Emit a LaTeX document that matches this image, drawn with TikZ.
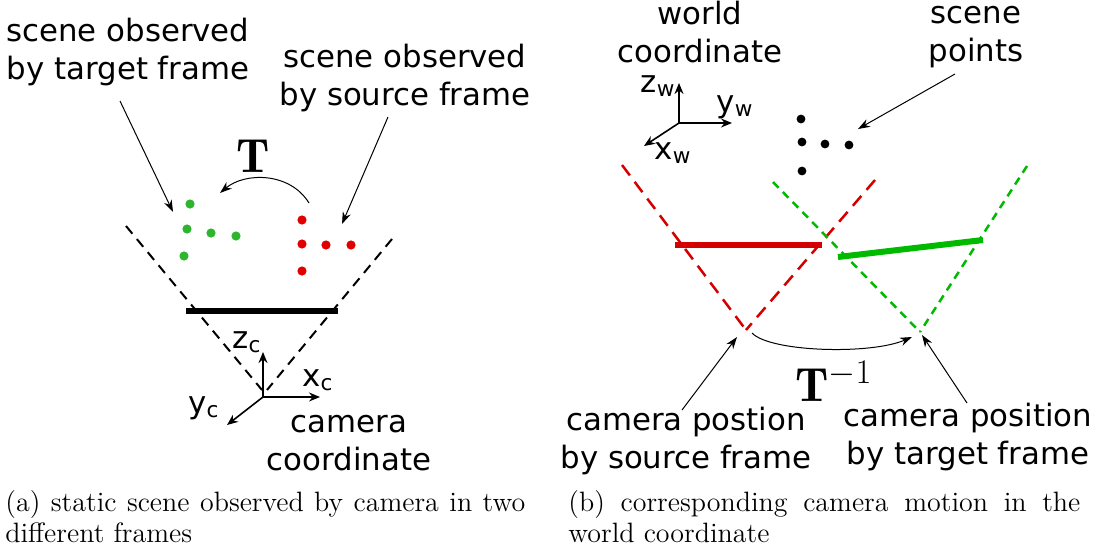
\documentclass[tikz,border=0pt]{standalone}
\usepackage{fontspec}
\newfontfamily\labelfont{DejaVu Sans}
\usetikzlibrary{arrows.meta}
\definecolor{camred}{HTML}{D40000}
\definecolor{camgreen}{HTML}{00BA00}
\definecolor{dotred}{HTML}{E00000}
\definecolor{dotgreen}{HTML}{2DB52D}

\begin{document}
\begin{tikzpicture}[x=0.5pt, y=-0.5pt, >=Stealth,
  lbl/.style={font=\labelfont\fontsize{15.4}{18.8}\selectfont, align=center, inner sep=0pt},
  axlbl/.style={font=\labelfont\fontsize{15.4}{18.8}\selectfont, inner sep=0pt},
  bigT/.style={font=\fontsize{24}{28}\selectfont, inner sep=0pt},
  capt/.style={font=\fontsize{14}{15.5}\selectfont, align=left, anchor=north west, inner sep=0pt},
  pointer/.style={-{Stealth[length=6pt, width=4.2pt]}, line width=0.5pt},
  axis/.style={-{Stealth[length=5.5pt, width=4.5pt]}, line width=0.8pt},
  camdash/.style={line width=1pt, dash pattern=on 5pt off 3.5pt},
  reddash/.style={camred, line width=1.25pt, dash pattern=on 6.5pt off 4pt},
  greendash/.style={camgreen, line width=1.25pt, dash pattern=on 4pt off 3pt},
  imgplane/.style={line width=3pt}]

\useasboundingbox (0,0) rectangle (1094,552);

%%% Panel (a): static scene seen by the camera
\begin{scope}
  % labels
  \node[lbl] (tgtlbl) at (128,52) {scene observed\\by target frame};
  \node[lbl] (srclbl) at (405,78) {scene observed\\by source frame};
  \node[lbl] (camlbl) at (349,443) {camera\\coordinate};
  \node[bigT] (tlbl) at (253,156) {$\mathbf{T}$};

  % scene points, target frame (green) and source frame (red)
  \foreach \px/\py in {190/204, 187/229, 211/233, 236/236, 184/256}
    \fill[dotgreen] (\px,\py) circle (2.3pt);
  \foreach \px/\py in {302/220, 302/244, 326/245, 351/245, 302/271}
    \fill[dotred] (\px,\py) circle (2.3pt);

  % field of view and image plane
  \draw[camdash] (126,226) -- (262,390);
  \draw[camdash] (392,239) -- (267,390);
  \draw[imgplane] (186,311) -- (338,311);

  % camera axes
  \coordinate (camO) at (263,397);
  \coordinate (camZ) at (263,352);
  \coordinate (camX) at (320,397);
  \coordinate (camY) at (227,425);
  \draw[axis] (camO) -- (camZ);
  \draw[axis] (camO) -- (camX);
  \draw[axis] (camO) -- (camY);
  \node[axlbl] (zc) at (247,342) {z\textsubscript{c}};
  \node[axlbl] (xc) at (318,380) {x\textsubscript{c}};
  \node[axlbl] (yc) at (204,408) {y\textsubscript{c}};

  % pointers
  \coordinate (tgtS) at (120,101);
  \coordinate (tgtE) at (173,212);
  \coordinate (srcS) at (388,117);
  \coordinate (srcE) at (342,224);
  \draw[pointer] (tgtS) -- (tgtE);
  \draw[pointer] (srcS) -- (srcE);

  % T
  \coordinate (tS) at (309,203);
  \coordinate (tE) at (220,193);
  \draw[pointer] (tS) .. controls (290,172) and (245,172) .. (tE);

  % caption
  \node[capt] (capa) at (5,490)
    {\makebox[260pt][s]{(a) static scene observed by camera in two}\\different frames};
\end{scope}

%%% Panel (b): camera motion in the world
\begin{scope}
  % labels
  \node[lbl] (wldlbl) at (700,32) {world\\coordinate};
  \node[lbl] (ptslbl) at (976,37) {scene\\points};
  \node[lbl] (srcpos) at (686,441) {camera postion\\by source frame};
  \node[lbl] (tgtpos) at (968,437) {camera position\\by target frame};
  \node[bigT] (tinv) at (834,381) {$\mathbf{T}^{-1}$};

  % world axes
  \coordinate (wO) at (679,123);
  \coordinate (wZ) at (679,83);
  \coordinate (wY) at (732,123);
  \coordinate (wX) at (644,146);
  \draw[axis] (wO) -- (wZ);
  \draw[axis] (wO) -- (wY);
  \draw[axis] (wO) -- (wX);
  \node[axlbl] (zw) at (658,86) {z\textsubscript{w}};
  \node[axlbl] (yw) at (735,107) {y\textsubscript{w}};
  \node[axlbl] (xw) at (673,153) {x\textsubscript{w}};

  % scene points
  \foreach \px/\py in {801/119, 802/142, 825/144, 849/145, 802/171}
    \fill (\px,\py) circle (2.2pt);

  % source camera (red)
  \coordinate (srcC) at (746,330);
  \draw[reddash] (622,165) -- (srcC);
  \draw[reddash] (875,180) -- (srcC);
  \draw[imgplane, camred] (675,245) -- (822,245);

  % target camera (green)
  \coordinate (tgtC) at (920,332);
  \draw[greendash] (773,182) -- (tgtC);
  \draw[greendash] (1027,166) -- (tgtC);
  \draw[imgplane, camgreen] (838,257) -- (983,240);

  % pointers
  \coordinate (ptsS) at (955,74);
  \coordinate (ptsE) at (858,129);
  \draw[pointer] (ptsS) -- (ptsE);
  \coordinate (spS) at (682,410);
  \coordinate (spE) at (737,337);
  \draw[pointer] (spS) -- (spE);
  \coordinate (tpS) at (967,403);
  \coordinate (tpE) at (922,335);
  \draw[pointer] (tpS) -- (tpE);

  % T^-1
  \coordinate (tiS) at (752,333);
  \coordinate (tiE) at (912,337);
  \draw[pointer] (tiS) .. controls (770,352) and (870,355) .. (tiE);

  % caption
  \node[capt] (capb) at (568,490)
    {\makebox[256pt][s]{(b) corresponding camera motion in the}\\world coordinate};
\end{scope}

\end{tikzpicture}
\end{document}
